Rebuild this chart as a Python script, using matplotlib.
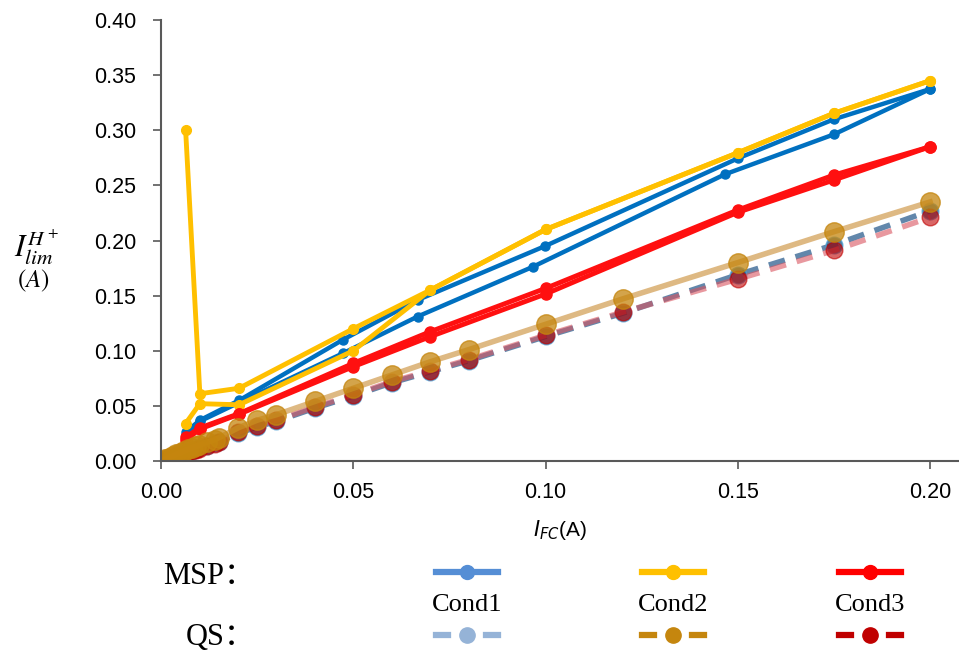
import matplotlib
matplotlib.use('Agg')
import matplotlib.pyplot as plt
from matplotlib.lines import Line2D

plt.rcParams['font.family'] = ['Liberation Sans', 'DejaVu Sans']

# MSP data, two runs per condition
msp1_ax = [0.0064, 0.0101, 0.0203, 0.0473, 0.0667, 0.0999, 0.150, 0.175, 0.200]
msp1_ay = [0.026, 0.037, 0.055, 0.110, 0.146, 0.195, 0.2745, 0.310, 0.3374]
msp1_bx = [0.0064, 0.0101, 0.0203, 0.0473, 0.0667, 0.0966, 0.1466, 0.175, 0.200]
msp1_by = [0.024, 0.036, 0.053, 0.0977, 0.131, 0.176, 0.260, 0.2963, 0.3374]

msp2_ax = [0.0064, 0.0101, 0.0203, 0.050, 0.070, 0.100, 0.150, 0.175, 0.200]
msp2_ay = [0.300, 0.061, 0.066, 0.120, 0.155, 0.210, 0.2796, 0.3154, 0.345]
msp2_bx = [0.0064, 0.0101, 0.0203, 0.050, 0.070, 0.100, 0.150, 0.175, 0.200]
msp2_by = [0.034, 0.052, 0.051, 0.100, 0.155, 0.210, 0.2796, 0.3154, 0.345]

msp3_x = [0.0065, 0.0101, 0.0203, 0.050, 0.070, 0.100, 0.150, 0.175, 0.200]
msp3_ay = [0.022, 0.030, 0.043, 0.0886, 0.1173, 0.1566, 0.2277, 0.2594, 0.2851]
msp3_by = [0.019, 0.029, 0.0425, 0.0856, 0.1128, 0.1515, 0.2256, 0.2549, 0.2851]

# QS data
qs_x = [0, 0.001, 0.002, 0.003, 0.004, 0.005, 0.006, 0.007, 0.008, 0.009, 0.010,
        0.012, 0.014, 0.015, 0.020, 0.025, 0.030, 0.040, 0.050, 0.060, 0.070,
        0.080, 0.100, 0.120, 0.150, 0.175, 0.200]
qs1_y = [0, 0.0012, 0.0024, 0.0036, 0.0048, 0.006, 0.0072, 0.0083, 0.0095, 0.0106,
         0.0118, 0.014, 0.0163, 0.0174, 0.025, 0.031, 0.036, 0.048, 0.059, 0.071,
         0.081, 0.091, 0.113, 0.134, 0.169, 0.196, 0.227]
qs2_y = [0, 0.0015, 0.003, 0.0045, 0.006, 0.0075, 0.009, 0.0105, 0.012, 0.0132,
         0.0145, 0.017, 0.0195, 0.021, 0.030, 0.037, 0.042, 0.054, 0.066, 0.078,
         0.090, 0.101, 0.124, 0.147, 0.180, 0.208, 0.235]
qs3_y = [0, 0.0011, 0.0022, 0.0034, 0.0045, 0.0056, 0.0068, 0.0079, 0.009, 0.0101,
         0.0112, 0.0135, 0.0157, 0.0168, 0.026, 0.032, 0.037, 0.049, 0.060, 0.072,
         0.082, 0.092, 0.114, 0.135, 0.165, 0.191, 0.221]

conds = ['Cond1', 'Cond2', 'Cond3']
msp_colors = ['#0070C0', '#FFC000', '#FF1010']
msp_leg_colors = ['#558ED5', '#FFC000', '#FF0000']
qs_leg_colors = ['#95B3D7', '#C5860E', '#C00000']

fig = plt.figure(figsize=(9.59, 6.54), dpi=100)
ax = fig.add_axes([0.1679, 0.2951, 1 - 0.1679, 0.6743])

# MSP lines
ax.plot(msp1_ax, msp1_ay, '-o', color=msp_colors[0], lw=3.2, ms=6.5)
ax.plot(msp1_bx, msp1_by, '-o', color=msp_colors[0], lw=3.2, ms=6.5)
ax.plot(msp2_ax, msp2_ay, '-o', color=msp_colors[1], lw=3.5, ms=7)
ax.plot(msp2_bx, msp2_by, '-o', color=msp_colors[1], lw=3.5, ms=7)
ax.plot(msp3_x, msp3_ay, '-o', color=msp_colors[2], lw=3.5, ms=8)
ax.plot(msp3_x, msp3_by, '-o', color=msp_colors[2], lw=3.5, ms=8)

# QS lines
ax.plot(qs_x, qs1_y, '--o', color='#2E5F8F', mec='#4FA3D8', mfc='#1F4E79',
        lw=4, ms=12, alpha=0.75, dashes=(3, 2))
ax.plot(qs_x, qs3_y, '--o', color='#D9545F', mfc='#C00000', mec='#C00000',
        lw=4, ms=12, alpha=0.6, dashes=(3, 2))
ax.plot(qs_x, qs2_y, '-o', color='#D4A259', mfc='#C5860E', mec='#C5860E',
        lw=4, ms=14, alpha=0.75)

ax.set_xlim(0, 0.2075)
ax.set_ylim(0, 0.40)
ax.set_xticks([0, 0.05, 0.10, 0.15, 0.20])
ax.set_yticks([0, 0.05, 0.10, 0.15, 0.20, 0.25, 0.30, 0.35, 0.40])
ax.xaxis.set_major_formatter(matplotlib.ticker.FormatStrFormatter('%.2f'))
ax.yaxis.set_major_formatter(matplotlib.ticker.FormatStrFormatter('%.2f'))
ax.tick_params(labelsize=15.5, length=6, color='#595959', width=1.2)
ax.tick_params(axis='x', pad=9)
ax.tick_params(axis='y', pad=12)
for s in ['top', 'right']:
    ax.spines[s].set_visible(False)
for s in ['left', 'bottom']:
    ax.spines[s].set_color('#595959')
    ax.spines[s].set_linewidth(1.5)

ax.set_xlabel(r'$\mathit{I_{FC}}$(A)', fontsize=15, labelpad=11,
              math_fontfamily='dejavusans')

fig.text(0.038, 0.622, r'$I_{lim}^{H^+}$', fontsize=22, ha='center', va='center',
         math_fontfamily='stix')
fig.text(0.035, 0.570, r'$(A)$', fontsize=18, ha='center', va='center',
         math_fontfamily='stix')

# bottom legend
serif = ['Liberation Serif', 'Noto Sans CJK SC']
fig.text(0.170, 1 - 576 / 654, 'MSP：', fontsize=22, family=serif, va='center')
fig.text(0.194, 1 - 638 / 654, 'QS：', fontsize=22, family=serif, va='center')
centers = [467, 673, 870]
for c, name, mc, qc in zip(centers, conds, msp_leg_colors, qs_leg_colors):
    xc = c / 959
    w = 31 / 959
    ym = 1 - 572 / 654
    yq = 1 - 635 / 654
    fig.add_artist(Line2D([xc - w, xc + w], [ym, ym], color=mc, lw=4.5,
                          transform=fig.transFigure))
    fig.add_artist(Line2D([xc], [ym], marker='o', color=mc, ms=10,
                          transform=fig.transFigure))
    fig.add_artist(Line2D([xc - w, xc - w + 12 / 959], [yq, yq], color=qc, lw=4.5,
                          transform=fig.transFigure))
    fig.add_artist(Line2D([xc + w - 12 / 959, xc + w], [yq, yq], color=qc, lw=4.5,
                          transform=fig.transFigure))
    fig.add_artist(Line2D([xc], [yq], marker='o', color=qc, ms=11,
                          transform=fig.transFigure))
    fig.text(xc, 1 - 605 / 654, name, fontsize=19, family=serif,
             ha='center', va='center')

fig.savefig('out.png', dpi=100)
